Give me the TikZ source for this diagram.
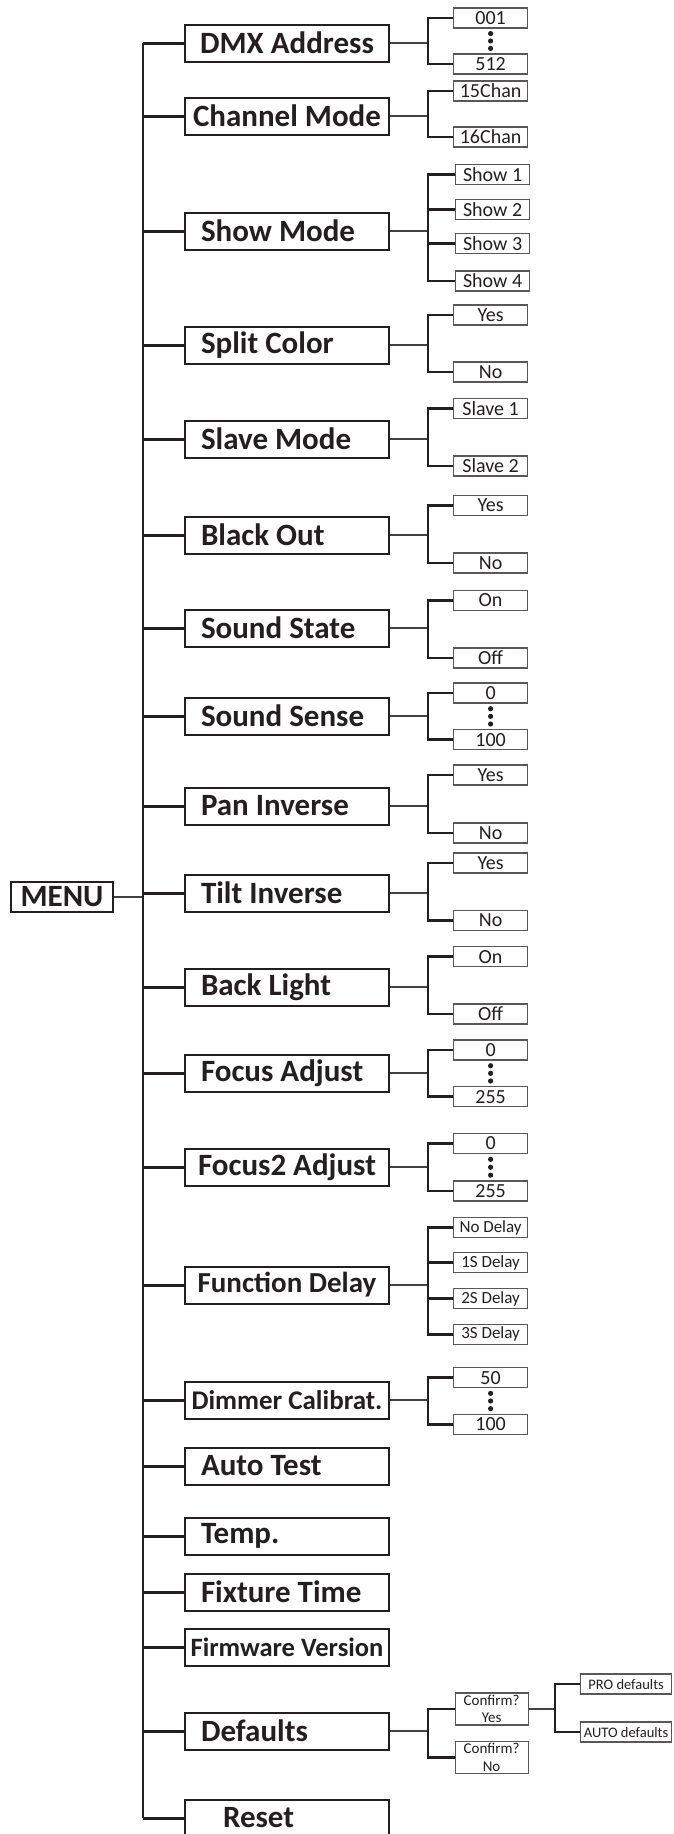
\documentclass[tikz,border=0pt]{standalone}
\usepackage{fontspec}
\setmainfont{Carlito}
\usetikzlibrary{calc}
\definecolor{ink}{HTML}{231F20}
\tikzset{
  menubox/.style={draw=ink, line width=2pt, anchor=west, minimum width=102pt, minimum height=30pt, inner sep=0pt, text=ink, font=\bfseries\fontsize{31}{36}\selectfont},
  item/.style={draw=ink, line width=2pt, anchor=west, minimum width=204pt, minimum height=37pt, inner xsep=0pt, inner ysep=0pt, align=center, text=ink, font=\bfseries\fontsize{31}{36}\selectfont},
  lead/.style={item, text width=172pt, inner xsep=16pt, align=flush left},
  choice/.style={draw=ink!75, line width=1.2pt, anchor=west, minimum width=74pt, minimum height=20pt, inner sep=0pt, text=ink, font=\fontsize{20}{22}\selectfont},
  delaychoice/.style={choice, font=\fontsize{17}{20}\selectfont},
  confirm/.style={choice, minimum width=73pt, minimum height=32pt, align=center, font=\fontsize{15}{17.5}\selectfont},
  preset/.style={choice, minimum width=91pt, font=\fontsize{14.5}{17}\selectfont},
  trunkline/.style={draw=ink, line width=2.2pt},
  branch/.style={draw=ink, line width=3pt},
  feed/.style={draw=ink!85, line width=2pt},
  fork/.style={draw=ink, line width=2.6pt}
}

\begin{document}
\begin{tikzpicture}[x=1pt, y=-1pt]
  \useasboundingbox (0,0) rectangle (673,1834);
  \coordinate (trunk) at (143,0);
  \coordinate (fork) at (428,0);
  \coordinate (fork2) at (555,0);

  % root
  \node[menubox] (menu) at (10,897) {MENU};

  % main entries
  \node[item] (dmx) at (184,43) {DMX Address};
  \node[item] (chan) at (184,116) {Channel Mode};
  \node[lead] (show) at (184,231) {Show Mode};
  \node[lead] (split) at (184,345) {Split Color};
  \node[lead] (slave) at (184,439) {Slave Mode};
  \node[lead] (blackout) at (184,535) {Black Out};
  \node[lead] (sstate) at (184,628) {Sound State};
  \node[lead] (ssense) at (184,716) {Sound Sense};
  \node[lead] (pan) at (184,806) {Pan Inverse};
  \node[lead] (tilt) at (184,893) {Tilt Inverse};
  \node[lead] (blight) at (184,987) {Back Light};
  \node[lead] (focus) at (184,1073) {Focus Adjust};
  \node[item] (focustwo) at (184,1167) {Focus2 Adjust};
  \node[item, font=\bfseries\fontsize{29}{34}\selectfont] (fdelay) at (184,1285) {Function Delay};
  \node[item, font=\bfseries\fontsize{27}{32}\selectfont] (dimmer) at (184,1400) {Dimmer Calibrat.};
  \node[lead] (autotest) at (184,1466) {Auto Test};
  \node[lead] (temp) at (184,1536) {Temp.};
  \node[lead] (ftime) at (184,1592) {Fixture Time};
  \node[item, font=\bfseries\fontsize{26.5}{32}\selectfont] (firmware) at (184,1647) {Firmware Version};
  \node[lead] (defaults) at (184,1731) {Defaults};
  \node[lead] (reset) at (184,1818) {\hspace*{22pt}Reset};

  % settings
  \node[choice] (dmxa) at (453,18) {001};
  \node[choice] (dmxb) at (453,64) {512};
  \node[choice] (chana) at (453,91) {15Chan};
  \node[choice] (chanb) at (453,137) {16Chan};
  \node[choice] (showa) at (455,174.5) {Show 1};
  \node[choice] (showb) at (455,209.3) {Show 2};
  \node[choice] (showc) at (455,243.5) {Show 3};
  \node[choice] (showd) at (455,281) {Show 4};
  \node[choice] (splita) at (453,315) {Yes};
  \node[choice] (splitb) at (453,372) {No};
  \node[choice] (slavea) at (453,408.5) {Slave 1};
  \node[choice] (slaveb) at (453,466) {Slave 2};
  \node[choice] (blackouta) at (453,505.6) {Yes};
  \node[choice] (blackoutb) at (453,563) {No};
  \node[choice] (sstatea) at (453,600.4) {On};
  \node[choice] (sstateb) at (453,658) {Off};
  \node[choice] (ssensea) at (453,693) {0};
  \node[choice] (ssenseb) at (453,739.7) {100};
  \node[choice] (pana) at (453,775) {Yes};
  \node[choice] (panb) at (453,833) {No};
  \node[choice] (tilta) at (453,863) {Yes};
  \node[choice] (tiltb) at (453,920.5) {No};
  \node[choice] (blighta) at (453,956.7) {On};
  \node[choice] (blightb) at (453,1014) {Off};
  \node[choice] (focusa) at (453,1050) {0};
  \node[choice] (focusb) at (453,1096.7) {255};
  \node[choice] (focustwoa) at (453,1143.5) {0};
  \node[choice] (focustwob) at (453,1191) {255};
  \node[delaychoice] (fdelaya) at (453,1227.7) {No Delay};
  \node[delaychoice] (fdelayb) at (453,1262.7) {1S Delay};
  \node[delaychoice] (fdelayc) at (453,1298.7) {2S Delay};
  \node[delaychoice] (fdelayd) at (453,1334.3) {3S Delay};
  \node[choice] (dimmera) at (453,1377.7) {50};
  \node[choice] (dimmerb) at (453,1424.3) {100};
  \node[confirm] (cyes) at (454.5,1709) {Confirm?\\Yes};
  \node[confirm] (cno) at (454.5,1757.5) {Confirm?\\No};
  \node[preset] (pro) at (580,1684) {PRO defaults};
  \node[preset] (auto) at (580,1732) {AUTO defaults};

  % trunk
  \draw[feed] (menu.east) -- (menu.east -| trunk);
  \draw[trunkline] (dmx.west -| trunk) -- (reset.west -| trunk);
  \draw[branch] (dmx.west -| trunk) -- (dmx.west);
  \draw[branch] (chan.west -| trunk) -- (chan.west);
  \draw[branch] (show.west -| trunk) -- (show.west);
  \draw[branch] (split.west -| trunk) -- (split.west);
  \draw[branch] (slave.west -| trunk) -- (slave.west);
  \draw[branch] (blackout.west -| trunk) -- (blackout.west);
  \draw[branch] (sstate.west -| trunk) -- (sstate.west);
  \draw[branch] (ssense.west -| trunk) -- (ssense.west);
  \draw[branch] (pan.west -| trunk) -- (pan.west);
  \draw[branch] (tilt.west -| trunk) -- (tilt.west);
  \draw[branch] (blight.west -| trunk) -- (blight.west);
  \draw[branch] (focus.west -| trunk) -- (focus.west);
  \draw[branch] (focustwo.west -| trunk) -- (focustwo.west);
  \draw[branch] (fdelay.west -| trunk) -- (fdelay.west);
  \draw[branch] (dimmer.west -| trunk) -- (dimmer.west);
  \draw[branch] (autotest.west -| trunk) -- (autotest.west);
  \draw[branch] (temp.west -| trunk) -- (temp.west);
  \draw[branch] (ftime.west -| trunk) -- (ftime.west);
  \draw[branch] (firmware.west -| trunk) -- (firmware.west);
  \draw[branch] (defaults.west -| trunk) -- (defaults.west);
  \draw[branch] (reset.west -| trunk) -- (reset.west);

  % forks to the settings
  \draw[feed] (dmx.east) -- (dmx.east -| fork);
  \draw[fork] (dmxa.west) -| (dmx.east -| fork) |- (dmxb.west);
  \draw[feed] (chan.east) -- (chan.east -| fork);
  \draw[fork] (chana.west) -| (chan.east -| fork) |- (chanb.west);
  \draw[feed] (show.east) -- (show.east -| fork);
  \draw[fork] (showa.west) -| (show.east -| fork) |- (showd.west);
  \draw[fork] (showb.west) -- (showb.west -| fork);
  \draw[fork] (showc.west) -- (showc.west -| fork);
  \draw[feed] (split.east) -- (split.east -| fork);
  \draw[fork] (splita.west) -| (split.east -| fork) |- (splitb.west);
  \draw[feed] (slave.east) -- (slave.east -| fork);
  \draw[fork] (slavea.west) -| (slave.east -| fork) |- (slaveb.west);
  \draw[feed] (blackout.east) -- (blackout.east -| fork);
  \draw[fork] (blackouta.west) -| (blackout.east -| fork) |- (blackoutb.west);
  \draw[feed] (sstate.east) -- (sstate.east -| fork);
  \draw[fork] (sstatea.west) -| (sstate.east -| fork) |- (sstateb.west);
  \draw[feed] (ssense.east) -- (ssense.east -| fork);
  \draw[fork] (ssensea.west) -| (ssense.east -| fork) |- (ssenseb.west);
  \draw[feed] (pan.east) -- (pan.east -| fork);
  \draw[fork] (pana.west) -| (pan.east -| fork) |- (panb.west);
  \draw[feed] (tilt.east) -- (tilt.east -| fork);
  \draw[fork] (tilta.west) -| (tilt.east -| fork) |- (tiltb.west);
  \draw[feed] (blight.east) -- (blight.east -| fork);
  \draw[fork] (blighta.west) -| (blight.east -| fork) |- (blightb.west);
  \draw[feed] (focus.east) -- (focus.east -| fork);
  \draw[fork] (focusa.west) -| (focus.east -| fork) |- (focusb.west);
  \draw[feed] (focustwo.east) -- (focustwo.east -| fork);
  \draw[fork] (focustwoa.west) -| (focustwo.east -| fork) |- (focustwob.west);
  \draw[feed] (fdelay.east) -- (fdelay.east -| fork);
  \draw[fork] (fdelaya.west) -| (fdelay.east -| fork) |- (fdelayd.west);
  \draw[fork] (fdelayb.west) -- (fdelayb.west -| fork);
  \draw[fork] (fdelayc.west) -- (fdelayc.west -| fork);
  \draw[feed] (dimmer.east) -- (dimmer.east -| fork);
  \draw[fork] (dimmera.west) -| (dimmer.east -| fork) |- (dimmerb.west);
  \draw[feed] (defaults.east) -- (defaults.east -| fork);
  \draw[fork] (cyes.west) -| (defaults.east -| fork) |- (cno.west);
  \draw[feed] (cyes.east) -- (cyes.east -| fork2);
  \draw[fork] (pro.west) -| (cyes.east -| fork2) |- (auto.west);

  % ranges
  \foreach \f in {.2,.5,.8} \fill[ink] ($(dmxa.south)!\f!(dmxb.north)$) circle (2.6pt);
  \foreach \f in {.2,.5,.8} \fill[ink] ($(ssensea.south)!\f!(ssenseb.north)$) circle (2.6pt);
  \foreach \f in {.2,.5,.8} \fill[ink] ($(focusa.south)!\f!(focusb.north)$) circle (2.6pt);
  \foreach \f in {.2,.5,.8} \fill[ink] ($(focustwoa.south)!\f!(focustwob.north)$) circle (2.6pt);
  \foreach \f in {.2,.5,.8} \fill[ink] ($(dimmera.south)!\f!(dimmerb.north)$) circle (2.6pt);
\end{tikzpicture}
\end{document}
